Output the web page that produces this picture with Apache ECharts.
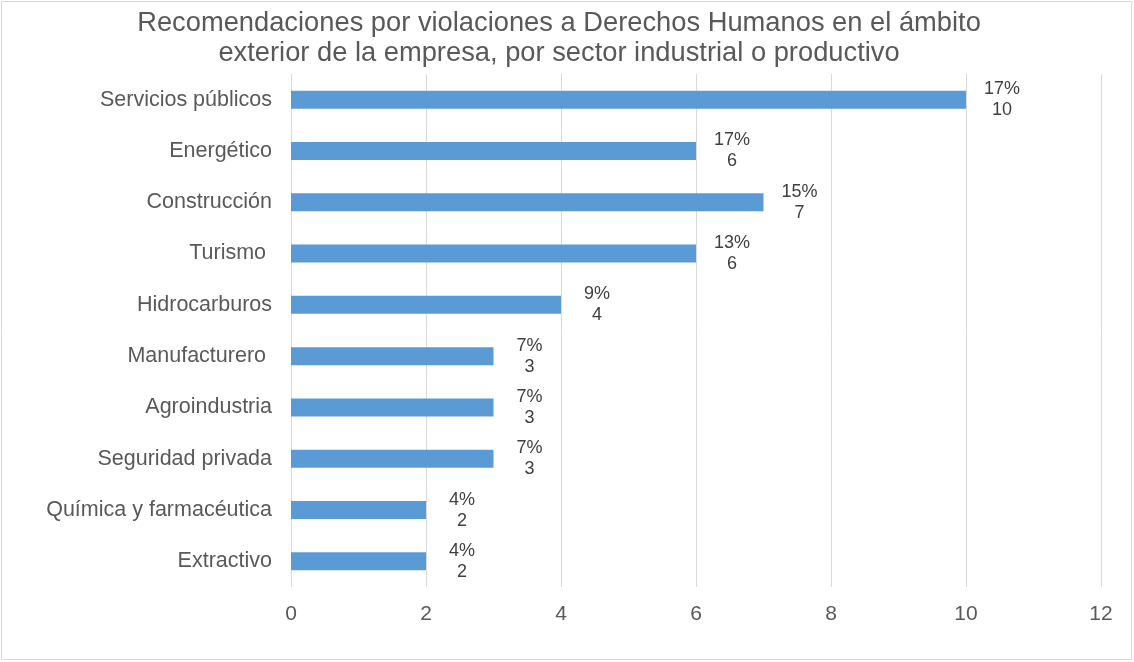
<!DOCTYPE html>
<html>
<head>
<meta charset="utf-8">
<script src="https://cdn.jsdelivr.net/npm/echarts@6/dist/echarts.min.js"></script>
<style>
  html, body { margin: 0; padding: 0; background: #fff; }
  #chart { width: 1134px; height: 662px; }
</style>
</head>
<body>
<div id="chart"></div>
<script>
// Sectors, listed top to bottom as drawn
const categories = [
  'Servicios públicos', 'Energético', 'Construcción', 'Turismo ',
  'Hidrocarburos', 'Manufacturero ', 'Agroindustria', 'Seguridad privada',
  'Química y farmacéutica', 'Extractivo'
];
// Number of recommendations per sector
const counts = [10, 6, 7, 6, 4, 3, 3, 3, 2, 2];
// Share of the total shown beside each bar
const shares = ['17%', '17%', '15%', '13%', '9%', '7%', '7%', '7%', '4%', '4%'];
// Value axis ticks
const xTicks = [0, 2, 4, 6, 8, 10, 12];

const FONT = 'Liberation Sans, Arial, sans-serif';
const chart = echarts.init(document.getElementById('chart'));

chart.setOption({
  backgroundColor: '#ffffff',
  animation: false,
  title: {
    text: 'Recomendaciones por violaciones a Derechos Humanos en el ámbito\nexterior de la empresa, por sector industrial o productivo',
    left: 559,
    top: 8,
    padding: 0,
    textAlign: 'center',
    textStyle: {
      fontFamily: FONT,
      fontSize: 27.3,
      fontWeight: 'normal',
      color: '#595959',
      lineHeight: 30
    }
  },
  graphic: [{
    type: 'rect',
    shape: { x: 1.5, y: 1.5, width: 1130, height: 658 },
    style: { fill: 'none', stroke: '#d9d9d9', lineWidth: 1 },
    silent: true
  }],
  grid: { left: 291, right: 33, top: 74, bottom: 75 },
  xAxis: {
    type: 'value',
    min: xTicks[0],
    max: xTicks[xTicks.length - 1],
    interval: 2,
    axisLine: { show: false },
    axisTick: { show: false },
    splitLine: { show: true, lineStyle: { color: '#d9d9d9', width: 1 } },
    axisLabel: {
      fontFamily: FONT,
      fontSize: 21,
      color: '#595959',
      margin: 17
    }
  },
  yAxis: {
    type: 'category',
    inverse: true,
    data: categories,
    axisLine: { show: false },
    axisTick: { show: false },
    axisLabel: {
      fontFamily: FONT,
      fontSize: 21.5,
      color: '#595959',
      margin: 19,
      padding: [3, 0, 0, 0]
    }
  },
  series: [{
    type: 'bar',
    data: counts,
    barWidth: 18,
    itemStyle: { color: '#5b9bd5' },
    label: {
      show: true,
      position: 'right',
      distance: 36,
      align: 'center',
      fontFamily: FONT,
      fontSize: 18,
      lineHeight: 21,
      color: '#404040',
      formatter: p => shares[p.dataIndex] + '\n' + counts[p.dataIndex]
    }
  }]
});
</script>
</body>
</html>
